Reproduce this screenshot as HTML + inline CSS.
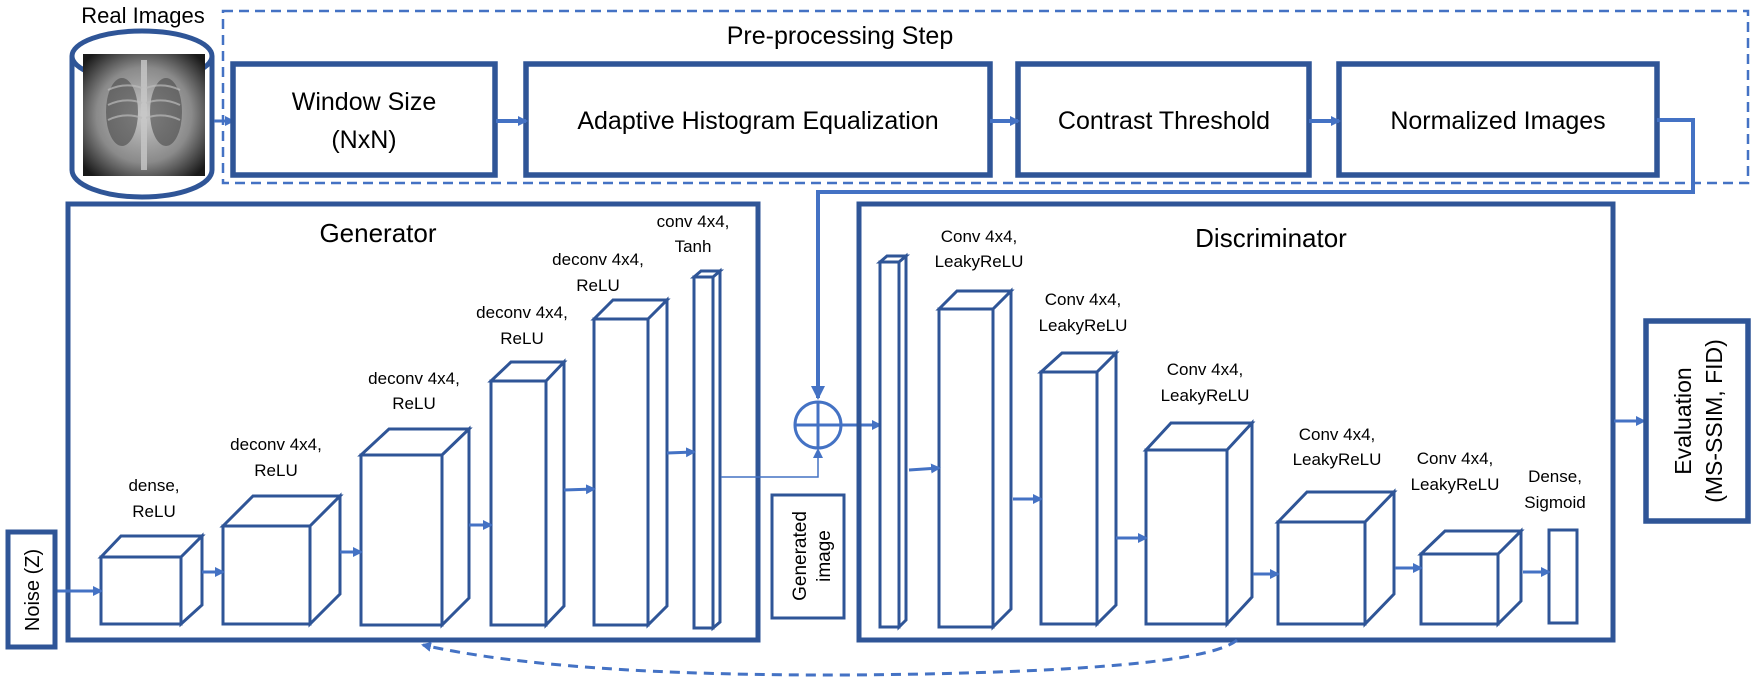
<!DOCTYPE html>
<html><head><meta charset="utf-8"><style>
html,body{margin:0;padding:0;background:#fff;}
svg{display:block;}
text{font-family:"Liberation Sans",sans-serif;fill:#000;}
</style></head><body>
<svg width="1758" height="680" viewBox="0 0 1758 680" xmlns="http://www.w3.org/2000/svg">
<defs>
<marker id="ah" markerWidth="10" markerHeight="10" refX="8" refY="5" orient="auto" markerUnits="userSpaceOnUse">
<path d="M0,0 L10,5 L0,10 z" fill="#4472C4"/></marker>
<marker id="ahb" markerWidth="14" markerHeight="14" refX="12" refY="7" orient="auto" markerUnits="userSpaceOnUse">
<path d="M0,0 L14,7 L0,14 z" fill="#4472C4"/></marker>
<radialGradient id="xr" cx="0.5" cy="0.5" r="0.65">
<stop offset="0" stop-color="#c8c8c8"/><stop offset="0.6" stop-color="#8a8a8a"/><stop offset="1" stop-color="#1a1a1a"/></radialGradient>
</defs>

<!-- Real images -->
<text x="143" y="23" font-size="22" text-anchor="middle">Real Images</text>
<path d="M72,56 L72,170 A70,27 0 0 0 212,170 L212,56" fill="none" stroke="#2F5597" stroke-width="5"/>
<ellipse cx="142" cy="56" rx="70" ry="25" fill="none" stroke="#2F5597" stroke-width="5"/>
<rect x="83" y="54" width="122" height="122" fill="url(#xr)"/>
<ellipse cx="122" cy="112" rx="16" ry="34" fill="#4a4a4a" opacity="0.6"/>
<ellipse cx="166" cy="112" rx="16" ry="34" fill="#4a4a4a" opacity="0.6"/>
<path d="M144,60 L144,170" stroke="#c8c8c8" stroke-width="6" opacity="0.8"/>
<g stroke="#bbb" stroke-width="2" fill="none" opacity="0.7">
<path d="M108,90 Q125,82 142,88 M108,105 Q125,97 142,103 M108,120 Q125,112 142,118 M146,88 Q163,82 180,90 M146,103 Q163,97 180,105 M146,118 Q163,112 180,120"/>
</g>

<!-- dashed preproc -->
<rect x="223" y="11" width="1525" height="172" fill="none" stroke="#4472C4" stroke-width="2.5" stroke-dasharray="10,6"/>
<text x="840" y="44" font-size="25" text-anchor="middle">Pre-processing Step</text>
<line x1="214" y1="121" x2="233" y2="121" stroke="#4472C4" stroke-width="3" marker-end="url(#ah)"/>

<g fill="#fff" stroke="#2F5597" stroke-width="5.5">
<rect x="233" y="64" width="262" height="111"/>
<rect x="526" y="64" width="464" height="111"/>
<rect x="1018" y="64" width="291" height="111"/>
<rect x="1339" y="64" width="318" height="111"/>
</g>
<text x="364" y="110" font-size="25" text-anchor="middle">Window Size</text>
<text x="364" y="148" font-size="25" text-anchor="middle">(NxN)</text>
<text x="758" y="129" font-size="25" text-anchor="middle">Adaptive Histogram Equalization</text>
<text x="1164" y="129" font-size="25" text-anchor="middle">Contrast Threshold</text>
<text x="1498" y="129" font-size="25" text-anchor="middle">Normalized Images</text>
<g stroke="#4472C4" stroke-width="4">
<line x1="496" y1="121" x2="526" y2="121" marker-end="url(#ah)"/>
<line x1="990" y1="121" x2="1018" y2="121" marker-end="url(#ah)"/>
<line x1="1309" y1="121" x2="1339" y2="121" marker-end="url(#ah)"/>
<polyline points="1657,120 1693,120 1693,192 818,192 818,398" fill="none" marker-end="url(#ahb)"/>
</g>

<!-- Generator -->
<rect x="68" y="204" width="690" height="436" fill="none" stroke="#2F5597" stroke-width="5"/>
<text x="378" y="242" font-size="26" text-anchor="middle">Generator</text>

<g fill="#fff" stroke="#2F5597" stroke-width="3" stroke-linejoin="miter">
<path d="M101,557 L121,536 L202,536 L181,557 Z M181,557 L202,536 L202,605 L181,624 Z"/><rect x="101" y="557" width="80" height="67"/>
<path d="M223,526 L253,496 L340,496 L310,526 Z M310,526 L340,496 L340,594 L310,624 Z"/><rect x="223" y="526" width="87" height="98"/>
<path d="M361,455 L389,429 L469,429 L442,455 Z M442,455 L469,429 L469,598 L442,625 Z"/><rect x="361" y="455" width="81" height="170"/>
<path d="M491,381 L511,362 L564,362 L546,381 Z M546,381 L564,362 L564,606 L546,625 Z"/><rect x="491" y="381" width="55" height="244"/>
<path d="M594,319 L613,300 L667,300 L648,319 Z M648,319 L667,300 L667,606 L648,625 Z"/><rect x="594" y="319" width="54" height="306"/>
<path d="M694,277 L701,271 L720,271 L713,277 Z M713,277 L720,271 L720,622 L713,628 Z"/><rect x="694" y="277" width="19" height="351"/>
</g>
<g font-size="17" text-anchor="middle">
<text x="154" y="491">dense,</text><text x="154" y="517">ReLU</text>
<text x="276" y="450">deconv 4x4,</text><text x="276" y="476">ReLU</text>
<text x="414" y="384">deconv 4x4,</text><text x="414" y="409">ReLU</text>
<text x="522" y="318">deconv 4x4,</text><text x="522" y="344">ReLU</text>
<text x="598" y="265">deconv 4x4,</text><text x="598" y="291">ReLU</text>
<text x="693" y="227">conv 4x4,</text><text x="693" y="252">Tanh</text>
</g>
<g stroke="#4472C4" stroke-width="3">
<line x1="56" y1="591" x2="101" y2="591" marker-end="url(#ah)"/>
<line x1="202" y1="572" x2="223" y2="572" marker-end="url(#ah)"/>
<line x1="340" y1="552" x2="361" y2="552" marker-end="url(#ah)"/>
<line x1="469" y1="525" x2="491" y2="525" marker-end="url(#ah)"/>
<line x1="564" y1="490" x2="594" y2="489" marker-end="url(#ah)"/>
<line x1="667" y1="453" x2="694" y2="452" marker-end="url(#ah)"/>
</g>
<polyline points="721,477 818,477 818,450" fill="none" stroke="#4472C4" stroke-width="1.5" marker-end="url(#ah)"/>

<!-- circle plus -->
<circle cx="818" cy="425" r="23" fill="#fff" stroke="#4472C4" stroke-width="3"/>
<line x1="795" y1="425" x2="841" y2="425" stroke="#4472C4" stroke-width="3"/>
<line x1="818" y1="402" x2="818" y2="448" stroke="#4472C4" stroke-width="3"/>
<line x1="841" y1="425" x2="880" y2="425" stroke="#4472C4" stroke-width="3" marker-end="url(#ah)"/>

<!-- Generated image -->
<rect x="772" y="495" width="72" height="123" fill="none" stroke="#2F5597" stroke-width="3"/>
<text transform="translate(806,556) rotate(-90)" font-size="19" text-anchor="middle">Generated</text>
<text transform="translate(830,556) rotate(-90)" font-size="19" text-anchor="middle">image</text>

<!-- Noise -->
<rect x="8" y="532" width="47" height="115" fill="none" stroke="#2F5597" stroke-width="5"/>
<text transform="translate(39,590) rotate(-90)" font-size="20" text-anchor="middle">Noise (Z)</text>

<!-- Discriminator -->
<rect x="859" y="204" width="754" height="436" fill="none" stroke="#2F5597" stroke-width="5"/>
<text x="1271" y="247" font-size="26" text-anchor="middle">Discriminator</text>
<g fill="#fff" stroke="#2F5597" stroke-width="3">
<path d="M880,262 L887,256 L906,256 L899,262 Z M899,262 L906,256 L906,620 L899,627 Z"/><rect x="880" y="262" width="19" height="365"/>
<path d="M939,309 L957,291 L1011,291 L993,309 Z M993,309 L1011,291 L1011,609 L993,627 Z"/><rect x="939" y="309" width="54" height="318"/>
<path d="M1041,372 L1062,353 L1116,353 L1097,372 Z M1097,372 L1116,353 L1116,605 L1097,624 Z"/><rect x="1041" y="372" width="56" height="252"/>
<path d="M1146,450 L1171,423 L1252,423 L1227,450 Z M1227,450 L1252,423 L1252,597 L1227,624 Z"/><rect x="1146" y="450" width="81" height="174"/>
<path d="M1278,522 L1307,492 L1394,492 L1365,522 Z M1365,522 L1394,492 L1394,594 L1365,624 Z"/><rect x="1278" y="522" width="87" height="102"/>
<path d="M1421,554 L1445,531 L1521,531 L1498,554 Z M1498,554 L1521,531 L1521,601 L1498,624 Z"/><rect x="1421" y="554" width="77" height="70"/>
<rect x="1549" y="530" width="28" height="93"/>
</g>
<g font-size="17" text-anchor="middle">
<text x="979" y="242">Conv 4x4,</text><text x="979" y="267">LeakyReLU</text>
<text x="1083" y="305">Conv 4x4,</text><text x="1083" y="331">LeakyReLU</text>
<text x="1205" y="375">Conv 4x4,</text><text x="1205" y="401">LeakyReLU</text>
<text x="1337" y="440">Conv 4x4,</text><text x="1337" y="465">LeakyReLU</text>
<text x="1455" y="464">Conv 4x4,</text><text x="1455" y="490">LeakyReLU</text>
<text x="1555" y="482">Dense,</text><text x="1555" y="508">Sigmoid</text>
</g>
<g stroke="#4472C4" stroke-width="3">
<line x1="909" y1="470" x2="939" y2="468" marker-end="url(#ah)"/>
<line x1="1013" y1="499" x2="1041" y2="499" marker-end="url(#ah)"/>
<line x1="1116" y1="538" x2="1146" y2="538" marker-end="url(#ah)"/>
<line x1="1253" y1="574" x2="1278" y2="574" marker-end="url(#ah)"/>
<line x1="1395" y1="568" x2="1421" y2="568" marker-end="url(#ah)"/>
<line x1="1523" y1="572" x2="1549" y2="572" marker-end="url(#ah)"/>
<line x1="1614" y1="421" x2="1644" y2="421" marker-end="url(#ah)"/>
</g>

<!-- Evaluation -->
<rect x="1646" y="321" width="102" height="200" fill="none" stroke="#2F5597" stroke-width="5.5"/>
<text transform="translate(1691,421) rotate(-90)" font-size="23" text-anchor="middle">Evaluation</text>
<text transform="translate(1722,421) rotate(-90)" font-size="23" text-anchor="middle">(MS-SSIM, FID)</text>

<!-- feedback dashed -->
<path d="M1237,640 Q1200,672 850,675 Q560,676 423,645" fill="none" stroke="#4472C4" stroke-width="3" stroke-dasharray="10,7" marker-end="url(#ah)"/>
</svg>
</body></html>
